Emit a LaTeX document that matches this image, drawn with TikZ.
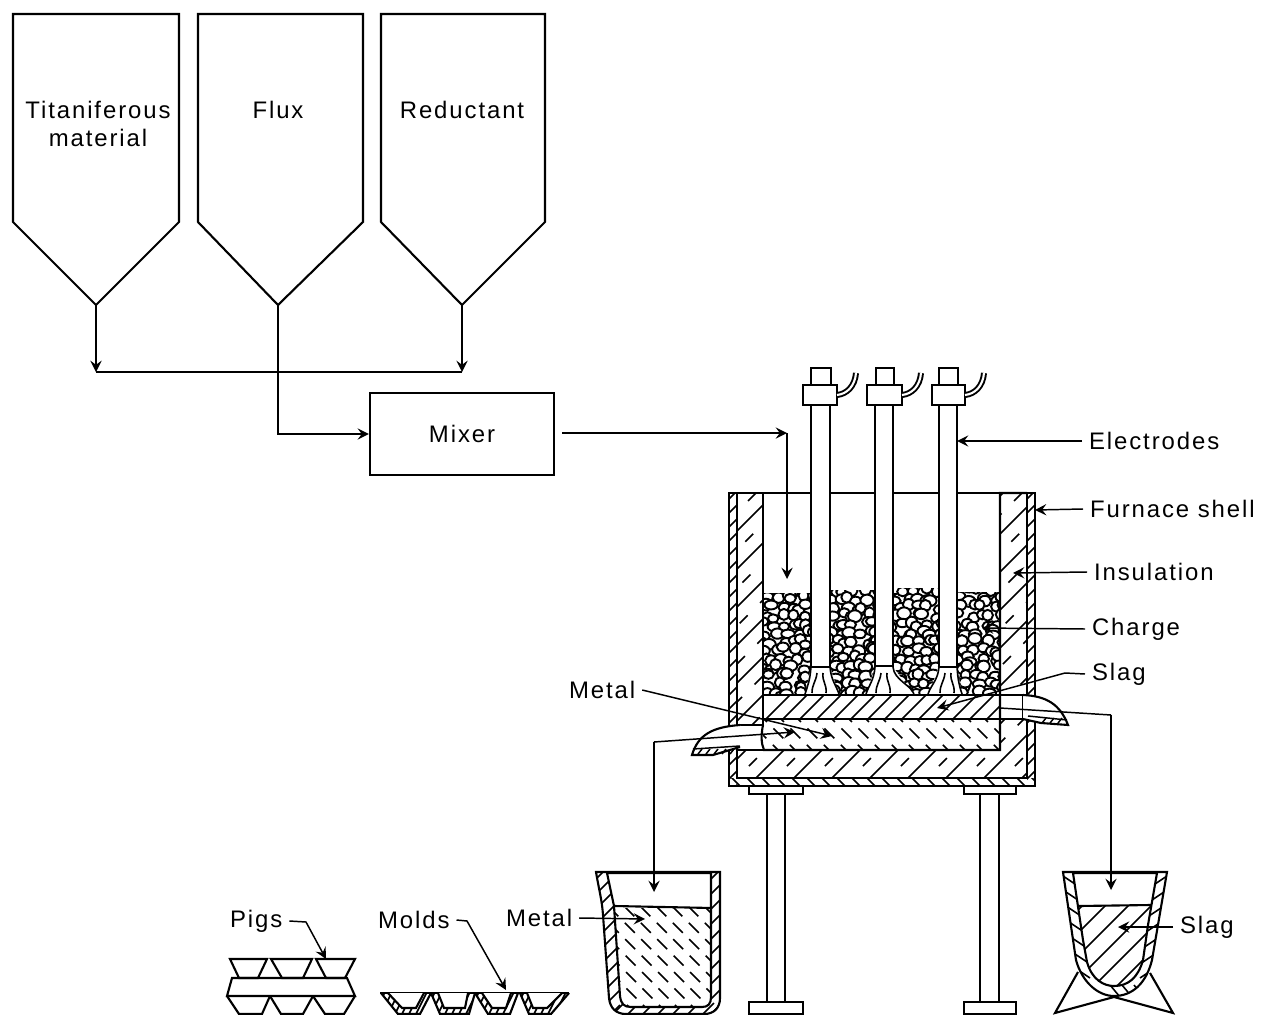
\documentclass[tikz,border=0pt]{standalone}
\usepackage{fontspec}
\setmainfont[LetterSpace=8]{Liberation Sans}
\usetikzlibrary{shapes.geometric, arrows, positioning}

\newcommand{\metalinner}{(607,873) -- (614,906) -- (620,996) .. controls (621,1004) and (624,1007) .. (631,1007) -- (702,1007) .. controls (708,1007) and (711,1004) .. (711,997) -- (711,873)}
\newcommand{\slaginner}{(1073,873) -- (1083,940) -- (1087,962) .. controls (1092,980) and (1104,986) .. (1114,986) .. controls (1128,986) and (1138,978) .. (1143,960) -- (1148,925) -- (1157,873)}

\begin{document}
\begin{tikzpicture}[
    x=0.01cm, y=-0.01cm,
    wall/.style={draw=black, line width=0.6pt, line join=miter},
    hatch/.style={line width=0.45pt},
    dashhatch/.style={line width=0.45pt, dash pattern=on 3.2pt off 5pt},
    arrow/.style={-stealth, line width=0.42pt},
    plain/.style={line width=0.42pt},
    tag/.style={inner sep=0pt, outer sep=2pt, anchor=west, font=\fontsize{6.8}{8.2}\selectfont},
    hoppertext/.style={inner sep=0pt, align=center, font=\fontsize{6.8}{8.2}\selectfont},
    mixerbox/.style={rectangle, draw, line width=0.6pt, minimum width=1.84cm, minimum height=0.82cm, font=\fontsize{6.8}{8.2}\selectfont}
]
\useasboundingbox (0,0) rectangle (1266,1015);

% Hoppers
\draw[wall] (13,14) -- (13,222) -- (96,305) coordinate (tipa) -- (179,222) -- (179,14) -- cycle;
\draw[wall] (198,14) -- (198,222) -- (278,305) coordinate (tipb) -- (363,222) -- (363,14) -- cycle;
\draw[wall] (381,14) -- (381,222) -- (462,305) coordinate (tipc) -- (545,222) -- (545,14) -- cycle;
\node[hoppertext] (titanium) at (98,124) {Titaniferous\\material};
\node[hoppertext] (flux) at (278,110) {Flux};
\node[hoppertext] (reductant) at (462,110) {Reductant};

% Mixer
\node[mixerbox] (mixer) at (462,434) {Mixer};
\coordinate (joina) at (96,372);
\coordinate (joinb) at (278,372);
\coordinate (joinc) at (462,372);
\coordinate (feedout) at (562,433);
\coordinate (feedturn) at (787,433);
\coordinate (feedin) at (787,579);
\draw[arrow] (tipa) -- (joina);
\draw[arrow] (tipc) -- (joinc);
\draw[plain] (joina) -- (joinc);
\draw[plain] (tipb) -- (joinb);
\draw[arrow] (joinb) |- (mixer.west);
\draw[arrow] (feedout) -- (feedturn);
\draw[arrow] (feedturn) -- (feedin);

% Legs
\foreach \lx/\rx/\pl/\pr in {767/785/749/803, 980/999/964/1016} {
  \draw[wall] (\lx,794) -- (\lx,1002);
  \draw[wall] (\rx,794) -- (\rx,1002);
  \draw[wall] (\pl,786) -- (\pl,794) -- (\pr,794) -- (\pr,786);
  \draw[wall] (\pl,1002) rectangle (\pr,1014);
}

% Charge
\begin{scope}
  \clip (763,593) -- (811,593) -- (811,695) -- (763,695) -- cycle
        (830,590) -- (875,590) -- (875,695) -- (830,695) -- cycle
        (893,588) -- (939,588) -- (939,695) -- (893,695) -- cycle
        (957,592) -- (1000,592) -- (1000,695) -- (957,695) -- cycle;
  \pgfmathsetseed{11}
  \foreach \row in {0,...,12} {
    \foreach \col in {0,...,26} {
      \pgfmathsetmacro{\px}{763+\col*9.2+mod(\row,2)*4.5+5*rand}
      \pgfmathsetmacro{\py}{590+\row*8.6+3.2*rand}
      \pgfmathsetmacro{\ra}{5+2*rnd}
      \pgfmathsetmacro{\rb}{4.2+1.8*rnd}
      \draw[fill=white, line width=0.55pt] (\px,\py) ellipse [x radius=\ra, y radius=\rb];
    }
  }
\end{scope}

% Arcs
\foreach \ex/\el/\er/\wl/\wr in {820/811/830/805/839, 884/875/893/866/914, 948/939/957/928/962} {
  \fill[white] (\el,667) -- (\wl,695) -- (\wr,695) -- (\er,667) -- cycle;
  \draw[hatch] (\el,667) .. controls (\el-1,680) and (\wl+3,685) .. (\wl,694);
  \draw[hatch] (\er,667) .. controls (\er+1,680) and (\wr-3,685) .. (\wr,694);
  \draw[hatch] (\ex-3,673) .. controls (\ex-4,682) and (\ex-8,684) .. (\ex-8,693);
  \draw[hatch] (\ex+3,673) .. controls (\ex+2,682) and (\ex+7,684) .. (\ex+6,693);
}

% Lining
\begin{scope}
  \clip (737,493) -- (763,493) -- (763,750) -- (1000,750) -- (1000,493) -- (1027,493) -- (1027,778) -- (737,778) -- cycle;
  \foreach \i in {1230,1268,...,1810} \draw[hatch] (\i-493,493) -- ++(-320,320);
  \foreach \i in {1249,1287,...,1810} \draw[dashhatch] (\i-493,493) -- ++(-320,320);
\end{scope}

% Slag layer and metal layer
\begin{scope}
  \clip (763,695) rectangle (1000,719);
  \foreach \i in {760,777,...,1030} \draw[hatch] (\i,725) -- ++(40,-40);
\end{scope}
\begin{scope}
  \clip (763,719) rectangle (1000,750);
  \foreach \i in {740,757,...,1000} \draw[line width=0.45pt, dash pattern=on 4pt off 2.6pt] (\i,712) -- ++(45,45);
\end{scope}

% Tap holes
\fill[white] (737,725) rectangle (762,750);
\fill[white] (1000,696) rectangle (1023,718);

% Furnace shell
\begin{scope}
  \clip (729,493) rectangle (737,786);
  \foreach \i in {493,507,...,800} \draw[hatch] (727,\i+8) -- ++(12,-12);
\end{scope}
\begin{scope}
  \clip (1027,493) rectangle (1035,786);
  \foreach \i in {493,507,...,800} \draw[hatch] (1025,\i+8) -- ++(12,-12);
\end{scope}
\begin{scope}
  \clip (729,778) rectangle (1035,786);
  \foreach \i in {730,745,...,1030} \draw[hatch] (\i,776) -- ++(12,12);
\end{scope}
\draw[wall] (729,493) -- (729,786) -- (1035,786) -- (1035,493) -- (1027,493) -- (1027,778) -- (737,778) -- (737,493) -- cycle;
\draw[wall] (737,493) -- (763,493) -- (763,725);
\draw[wall] (737,725) -- (763,725);
\draw[wall] (737,750) -- (763,750);
\draw[wall] (763,725) .. controls (761,735) and (761,743) .. (764,750) -- (1000,750) -- (1000,493) -- (1027,493);
\draw[wall] (763,695) -- (1000,695);
\draw[wall] (763,719) -- (1000,719);
\draw[wall] (1000,719) -- (1023,719) -- (1023,695) -- (1000,695);
\draw[plain] (763,493) -- (1000,493);

% Spouts
\draw[wall, fill=white] (740,725) .. controls (712,727) and (698,735) .. (692,755) -- (713,755) -- (740,747);
\draw[plain] (693,749) -- (740,746);
\foreach \i in {698,706,714,722,730} \draw[plain] (\i,754) -- ++(4,-5);
\draw[wall, fill=white] (1023,695) .. controls (1046,696) and (1060,704) .. (1068,725) -- (1041,723) -- (1023,719);
\draw[plain] (1028,716) -- (1067,720);
\foreach \i in {1042,1050,1058} \draw[plain] (\i,723) -- ++(4,-5);

% Electrodes
\foreach \el/\er/\cl/\cr/\tl/\tr/\by in {811/830/803/837/811/831/667, 875/893/867/902/876/894/666, 939/957/932/965/939/958/667} {
  \draw[wall, fill=white] (\el,405) -- (\el,\by) -- (\er,\by) -- (\er,405);
  \draw[wall, fill=white] (\tl,385) -- (\tl,368) -- (\tr,368) -- (\tr,385);
  \draw[wall, fill=white] (\cl,385) rectangle (\cr,405);
  \draw[line width=0.55pt, double=white, double distance=0.6pt] (\cr,395) .. controls (\cr+10,394) and (\cr+18,386) .. (\cr+19,373);
}

% Metal ladle
\draw[wall, fill=white] (596,872) .. controls (599,890) and (602,900) .. (603,915) -- (609,998) .. controls (610,1008) and (616,1014) .. (626,1014) -- (704,1014) .. controls (714,1014) and (720,1008) .. (720,998) -- (720,872) -- cycle;
\begin{scope}
  \clip (596,872) .. controls (599,890) and (602,900) .. (603,915) -- (609,998) .. controls (610,1008) and (616,1014) .. (626,1014) -- (704,1014) .. controls (714,1014) and (720,1008) .. (720,998) -- (720,872) -- cycle;
  \foreach \i in {860,875,...,1120} {
    \draw[hatch] (590,\i+10) -- ++(30,-30);
    \draw[hatch] (705,\i+10) -- ++(20,-20);
  }
  \foreach \i in {610,625,...,730} \draw[hatch] (\i,1017) -- ++(14,-14);
\end{scope}
\draw[wall, fill=white] \metalinner -- cycle;
\begin{scope}
  \clip \metalinner -- cycle;
  \clip (600,908) rectangle (720,1010);
  \foreach \i in {480,496,...,720} \draw[line width=0.45pt, dash pattern=on 4pt off 2.6pt] (\i,890) -- ++(130,130);
\end{scope}
\draw[wall] (614,906) -- (712,908);

% Slag ladle
\draw[wall] (1078,972) -- (1055,1013) -- (1114,997) -- (1173,1013) -- (1150,973);
\draw[wall, fill=white] (1063,872) -- (1076,960) .. controls (1082,982) and (1098,996) .. (1114,996) .. controls (1132,996) and (1146,984) .. (1152,960) -- (1167,872) -- cycle;
\begin{scope}
  \clip (1063,872) -- (1076,960) .. controls (1082,982) and (1098,996) .. (1114,996) .. controls (1132,996) and (1146,984) .. (1152,960) -- (1167,872) -- cycle;
  \foreach \i in {860,874,...,1000} {
    \draw[hatch] (1060,\i) -- ++(30,20);
    \draw[hatch] (1140,\i+20) -- ++(30,-20);
  }
  \foreach \i in {1110,1122,1134} \draw[hatch] (\i,985) -- ++(10,12);
\end{scope}
\draw[wall, fill=white] \slaginner -- cycle;
\begin{scope}
  \clip \slaginner -- cycle;
  \clip (1070,905) rectangle (1160,990);
  \foreach \i in {1060,1083,...,1320} \draw[hatch] (\i,905) -- ++(-90,90);
\end{scope}
\draw[wall] (1079,906) -- (1151,905);

% Pigs
\foreach \tl/\tr/\bl/\br in {230/267/239/258, 271/312/282/303, 316/355/326/345} {
  \draw[wall] (\tl,959) -- (\tr,959) -- (\br,978) -- (\bl,978) -- cycle;
}
\draw[wall] (232,978) -- (347,978) -- (355,996) -- (227,996) -- cycle;
\foreach \tl/\tr/\bl/\br in {227/270/239/262, 270/313/281/303, 313/355/325/344} {
  \draw[wall] (\tl,996) -- (\bl,1014) -- (\br,1014) -- (\tr,996);
}

% Molds
\draw[wall] (380,993) -- (569,993);
\foreach \tl/\tr/\bl/\br in {381/431/398/420, 431/475/440/469, 475/518/488/510, 520/569/529/551} {
  \begin{scope}
    \clip (\tl,993) -- (\bl,1014) -- (\br,1014) -- (\tr,993) -- cycle;
    \foreach \i in {0,7,...,70} \draw[hatch] (\tl+\i-8,1016) -- ++(12,-24);
  \end{scope}
  \draw[wall] (\tl,993) -- (\bl,1014) -- (\br,1014) -- (\tr,993);
  \draw[wall, fill=white] (\tl+7,993) -- (\bl+4,1008) -- (\br-4,1008) -- (\tr-7,993);
}

% Labels
\node[tag] (electrodes) at (1082,441) {Electrodes};
\node[tag] (shell) at (1083,509) {Furnace shell};
\node[tag] (insulation) at (1087,572) {Insulation};
\node[tag] (charge) at (1085,629) {Charge};
\node[tag] (slagtag) at (1085,674) {Slag};
\node[tag] (metaltag) at (562,690) {Metal};
\node[tag] (pigs) at (223,921) {Pigs};
\node[tag] (molds) at (371,920) {Molds};
\node[tag] (metalladle) at (499,918) {Metal};
\node[tag] (slagladle) at (1173,927) {Slag};

% Label connections
\coordinate (electrodeend) at (957,441);
\coordinate (shellend) at (1035,510);
\coordinate (insulationend) at (1013,573);
\coordinate (chargeend) at (982,628);
\coordinate (slagbend) at (1065,673);
\coordinate (slagend) at (937,708);
\coordinate (metalend) at (832,736);
\coordinate (pigbend) at (306,922);
\coordinate (pigend) at (326,959);
\coordinate (moldbend) at (467,921);
\coordinate (moldend) at (506,990);
\coordinate (ladlemetalend) at (645,919);
\coordinate (ladleslagend) at (1118,927);
\draw[arrow] (electrodes.west) -- (electrodeend);
\draw[arrow] (shell.west) -- (shellend);
\draw[arrow] (insulation.west) -- (insulationend);
\draw[arrow] (charge.west) -- (chargeend);
\draw[arrow] (slagtag.west) -- (slagbend) -- (slagend);
\draw[arrow] (metaltag.east) -- (metalend);
\draw[arrow] (pigs.east) -- (pigbend) -- (pigend);
\draw[arrow] (molds.east) -- (moldbend) -- (moldend);
\draw[arrow] (metalladle.east) -- (ladlemetalend);
\draw[arrow] (slagladle.west) -- (ladleslagend);

% Tapping
\coordinate (metaltap) at (795,732);
\coordinate (metalturn) at (654,742);
\coordinate (metalfall) at (654,892);
\coordinate (slagtap) at (1000,708);
\coordinate (slagturn) at (1111,715);
\coordinate (slagfall) at (1111,890);
\draw[arrow] (metalturn) -- (metaltap);
\draw[arrow] (metalturn) -- (metalfall);
\draw[plain] (slagtap) -- (slagturn);
\draw[arrow] (slagturn) -- (slagfall);

\end{tikzpicture}
\end{document}
